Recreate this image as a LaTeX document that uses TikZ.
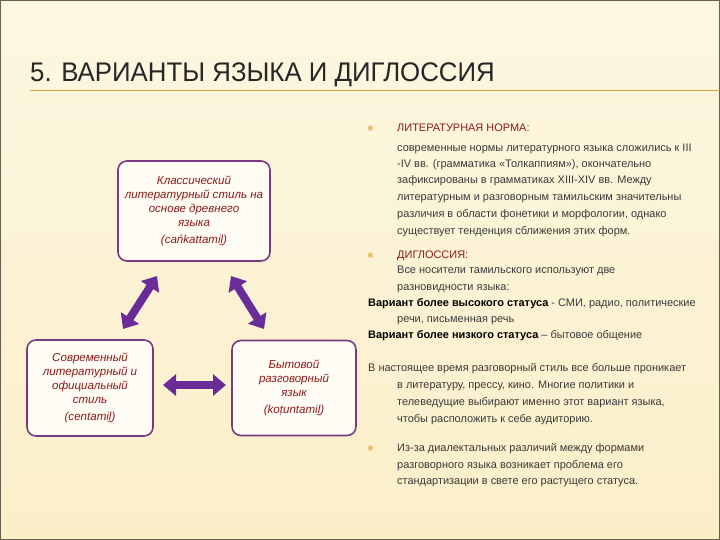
\documentclass[tikz,border=0pt]{standalone}
\usepackage{fontspec}
\setmainfont{Liberation Sans}
\newfontfamily\symf{DejaVu Sans}
\usetikzlibrary{arrows.meta}
\definecolor{bgA}{HTML}{FBEFC8}
\definecolor{bgB}{HTML}{FDF7E2}
\definecolor{boxc}{HTML}{7A3A80}
\definecolor{arrc}{HTML}{6A2C96}
\definecolor{txtred}{HTML}{8B1A1A}
\definecolor{txt}{HTML}{3A3A3A}
\definecolor{gold}{HTML}{D9A441}
\tikzset{
 box/.style={draw=boxc,line width=1.6pt,rounded corners=9pt,fill=white!60!bgB,text=txtred,font=\itshape\fontsize{11.6}{14}\selectfont,align=center,inner sep=3pt},
 dbl/.style={draw=arrc,line width=8bp,{Triangle[length=13bp,width=21bp]}-{Triangle[length=13bp,width=21bp]}},
 ln/.style={anchor=base west,inner sep=0pt,text=txt,font=\fontsize{11}{13}\selectfont},
 hd/.style={ln,text=txtred},
 bul/.style={anchor=base west,inner sep=0pt,text=gold,font=\symf\fontsize{8}{10}\selectfont}
}
\begin{document}
\begin{tikzpicture}[x=1bp,y=-1bp]
\useasboundingbox (0,0) rectangle (720,540);
\shade[top color=bgB,bottom color=bgA] (0,0) rectangle (720,540);
\draw[color=black!60!bgA,line width=1.2bp] (0.6,0.6) rectangle (719.4,539.4);
\node[anchor=base west,inner sep=0pt,text=black!85,font=\fontsize{27}{30}\selectfont] (title) at (30,82) {\scalebox{0.96}[1]{5. ВАРИАНТЫ ЯЗЫКА И ДИГЛОССИЯ}};
\coordinate (tl1) at (30,91); \coordinate (tl2) at (720,91);
\draw[gold,line width=1bp] (tl1) -- (tl2);

\node[box,minimum width=152bp,minimum height=100bp] (top) at (194,211) {Классический\\литературный стиль на\\основе древнего\\языка\\[3pt](cańkattamiḻ)};
\node[box,minimum width=126bp,minimum height=96bp] (left) at (90,388) {Современный\\литературный и\\официальный\\стиль\\[3pt](centamiḻ)};
\node[box,minimum width=124bp,minimum height=95bp] (right) at (294,388) {Бытовой\\разговорный\\язык\\[3pt](koṭuntamiḻ)};

\coordinate (a1) at (157,276); \coordinate (a2) at (123,329);
\coordinate (b1) at (231,276); \coordinate (b2) at (264,329);
\coordinate (c1) at (163,385); \coordinate (c2) at (226,385);
\draw[dbl] (a1) -- (a2);
\draw[dbl] (b1) -- (b2);
\draw[dbl] (c1) -- (c2);

\node[bul] (u1) at (367,132) {✻};
\node[hd] (h1) at (397,132) {ЛИТЕРАТУРНАЯ НОРМА:};
\node[ln] (l1) at (397,152) {современные нормы литературного языка сложились к III};
\node[ln] (l2) at (397,168) {-IV вв. (грамматика «Толкаппиям»), окончательно};
\node[ln] (l3) at (397,184) {зафиксированы в грамматиках XIII-XIV вв. Между};
\node[ln] (l4) at (397,201) {литературным и разговорным тамильским значительны};
\node[ln] (l5) at (397,218) {различия в области фонетики и морфологии, однако};
\node[ln] (l6) at (397,235) {существует тенденция сближения этих форм.};
\node[bul] (u2) at (367,259) {✻};
\node[hd] (h2) at (397,259) {ДИГЛОССИЯ:};
\node[ln] (l7) at (397,274) {Все носители тамильского используют две};
\node[ln] (l8) at (397,290) {разновидности языка:};
\node[ln] (l9) at (368,306) {\textbf{\color{black}Вариант более высокого статуса} - СМИ, радио, политические};
\node[ln] (l10) at (397,322) {речи, письменная речь};
\node[ln] (l11) at (368,338) {\textbf{\color{black}Вариант более низкого статуса} – бытовое общение};
\node[ln] (l12) at (368,371) {В настоящее время разговорный стиль все больше проникает};
\node[ln] (l13) at (397,388) {в литературу, прессу, кино. Многие политики и};
\node[ln] (l14) at (397,405) {телеведущие выбирают именно этот вариант языка,};
\node[ln] (l15) at (397,422) {чтобы расположить к себе аудиторию.};
\node[bul] (u3) at (367,451) {✻};
\node[ln] (l16) at (397,451) {Из-за диалектальных различий между формами};
\node[ln] (l17) at (397,468) {разговорного языка возникает проблема его};
\node[ln] (l18) at (397,484) {стандартизации в свете его растущего статуса.};
\end{tikzpicture}
\end{document}
